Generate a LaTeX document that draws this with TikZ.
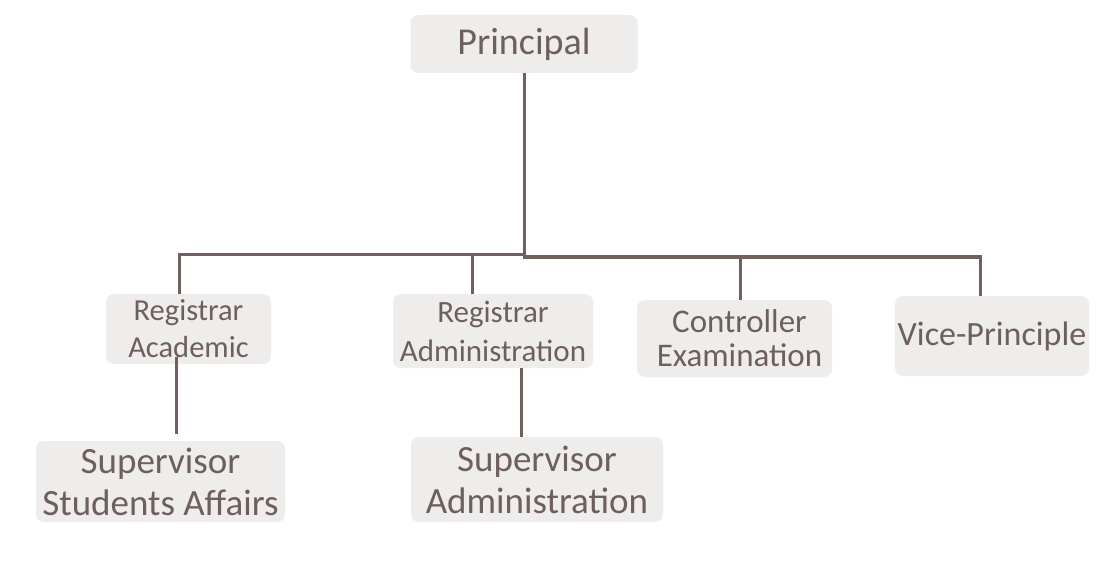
\documentclass[tikz,border=0pt]{standalone}
\usepackage{fontspec}
\setmainfont{Carlito}
\definecolor{boxgray}{RGB}{239,237,235}
\definecolor{txtbrown}{RGB}{110,95,95}
\definecolor{linebrown}{RGB}{114,96,95}
\tikzset{
  orgbox/.style={rounded corners=8pt, fill=boxgray, text=txtbrown, align=center, inner sep=0pt},
  link/.style={draw=linebrown, line width=3pt}
}
\begin{document}
\begin{tikzpicture}[x=1pt, y=-1pt]
 \useasboundingbox[fill=white](0,0) rectangle (1110,561);
 \node[orgbox, minimum width=227pt, minimum height=58pt, font=\fontsize{38}{44}\selectfont](principal) at (524,44){Principal};
 \node[orgbox, minimum width=165pt, minimum height=70pt, font=\fontsize{30.5}{37}\selectfont](regacad) at (188.5,329){Registrar\\Academic};
 \node[orgbox, minimum width=200pt, minimum height=74pt, font=\fontsize{31}{39}\selectfont](regadmin) at (493,331){Registrar\\Administration};
 \node[orgbox, minimum width=195pt, minimum height=77pt, font=\fontsize{33}{34}\selectfont](ctrl) at (734.5,338.5){\hspace*{10pt}Controller\\\hspace*{10pt}Examination};
 \node[orgbox, minimum width=194pt, minimum height=80pt, font=\fontsize{34}{40}\selectfont](vice) at (992,336){Vice-Principle};
 \node[orgbox, minimum width=249pt, minimum height=81pt, font=\fontsize{37}{42}\selectfont](supstud) at (160.5,481.5){Supervisor\\Students Affairs};
 \node[orgbox, minimum width=252pt, minimum height=85pt, font=\fontsize{37}{42}\selectfont](supadmin) at (537,479.5){Supervisor\\Administration};
 \coordinate (busl) at (524,254.5);
 \coordinate (busr) at (524,257);
 \draw[link](principal.south)--(busr);
 \foreach \n/\s in {regacad/-9.5, regadmin/-21}
 {
     \draw[link]([xshift=1.5pt]busl)-|([xshift=\s pt]\n.north);
 }
 \foreach \n/\s in {ctrl/5.5, vice/-12}
 {
     \draw[link]([xshift=-1.5pt]busr)-|([xshift=\s pt]\n.north);
 }
 \draw[link]([xshift=-12.5pt, yshift=7pt]regacad.south)--([xshift=-12.5pt, yshift=7pt]regacad.south |- supstud.north);
 \draw[link]([xshift=28pt]regadmin.south)--([xshift=28pt]regadmin.south |- supadmin.north);
\end{tikzpicture}
\end{document}
